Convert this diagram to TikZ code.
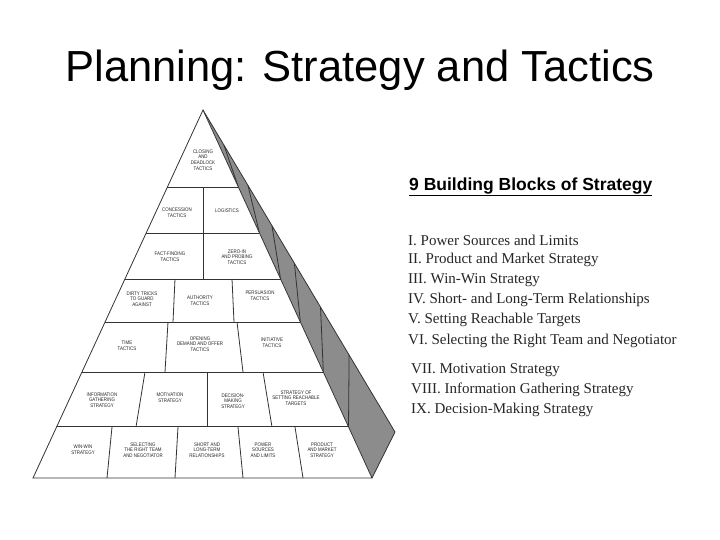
\documentclass[tikz,border=0pt]{standalone}
\usepackage{fontspec}
\setmainfont{Liberation Serif}
\setsansfont{Liberation Sans}
\usetikzlibrary{calc}
\tikzset{lbl/.style={font=\sffamily\fontsize{5.2}{5.6}\selectfont, align=center, inner sep=0pt, xscale=0.85, text=black!85},
 item/.style={font=\fontsize{15}{17}\selectfont, anchor=west, inner sep=0pt, text=black!85},
 edge/.style={draw=black!80, line width=0.8pt}}
\begin{document}
\begin{tikzpicture}[x=1pt,y=-1pt]
\useasboundingbox (0,0) rectangle (720,540);
\node[font=\sffamily\fontsize{43.5}{48}\selectfont] (title) at (360,70) {Planning: Strategy and Tactics};
\coordinate (A) at (203,110);
\coordinate (L) at (33,478);
\coordinate (R) at (372,478);
\coordinate (B) at (395,432);
% side face
\fill[black!45] (A) -- (B) -- (R) -- cycle;
\draw[edge] (A) -- (B) -- (R);
\foreach \t in {0.209,0.334,0.459,0.576,0.712,0.861}{
  \pgfmathsetmacro{\s}{\t-0.1}
  \draw[edge] ($(A)!\t!(R)$) -- ($(A)!\s!(B)$);
}
% front face
\fill[white] (A) -- (L) -- (R) -- cycle;
\draw[edge] (A) -- (L) -- (R) -- cycle;
\foreach \t in {0.209,0.334,0.459,0.576,0.712,0.861}{
  \draw[edge] ($(A)!\t!(L)$) -- ($(A)!\t!(R)$);
}
\draw[edge] (203,187) -- (203,279);
\draw[edge] (175,279) -- (173,322);
\draw[edge] (232,279) -- (234,322);
\draw[edge] (168,322) -- (165,372);
\draw[edge] (237,322) -- (243,372);
\draw[edge] (145,372) -- (136,427);
\draw[edge] (207,372) -- (207,427);
\draw[edge] (263,372) -- (272,427);
\draw[edge] (112,427) -- (107,478);
\draw[edge] (178,427) -- (175,478);
\draw[edge] (238,427) -- (243,478);
\draw[edge] (295,427) -- (303,478);
% labels
\node[lbl] (c1) at (203,160) {CLOSING\\AND\\DEADLOCK\\TACTICS};
\node[lbl] (c2) at (177,213) {CONCESSION\\TACTICS};
\node[lbl] (c3) at (227,211) {LOGISTICS};
\node[lbl] (c4) at (170,257) {FACT-FINDING\\TACTICS};
\node[lbl] (c5) at (237,257) {ZERO-IN\\AND PROBING\\TACTICS};
\node[lbl] (c6) at (142,299) {DIRTY TRICKS\\TO GUARD\\AGAINST};
\node[lbl] (c7) at (200,301) {AUTHORITY\\TACTICS};
\node[lbl] (c8) at (260,296) {PERSUASION\\TACTICS};
\node[lbl] (c9) at (127,346) {TIME\\TACTICS};
\node[lbl] (c10) at (200,344) {OPENING\\DEMAND AND OFFER\\TACTICS};
\node[lbl] (c11) at (272,343) {INITIATIVE\\TACTICS};
\node[lbl] (c12) at (102,400) {INFORMATION\\GATHERING\\STRATEGY};
\node[lbl] (c13) at (170,398) {MOTIVATION\\STRATEGY};
\node[lbl] (c14) at (233,401) {DECISION-\\MAKING\\STRATEGY};
\node[lbl] (c15) at (296,398) {STRATEGY OF\\SETTING REACHABLE\\TARGETS};
\node[lbl] (c16) at (83,450) {WIN-WIN\\STRATEGY};
\node[lbl] (c17) at (143,450) {SELECTING\\THE RIGHT TEAM\\AND NEGOTIATOR};
\node[lbl] (c18) at (207,450) {SHORT AND\\LONG-TERM\\RELATIONSHIPS};
\node[lbl] (c19) at (263,450) {POWER\\SOURCES\\AND LIMITS};
\node[lbl] (c20) at (322,450) {PRODUCT\\AND MARKET\\STRATEGY};
% right text
\node[font=\sffamily\bfseries\fontsize{17.5}{20}\selectfont, anchor=west, inner sep=0pt] (hd) at (409,187) {\underline{9 Building Blocks of Strategy}};
\node[item] (i1) at (408,240) {I. Power Sources and Limits};
\node[item] (i2) at (408,260) {II. Product and Market Strategy};
\node[item] (i3) at (408,280) {III. Win-Win Strategy};
\node[item] (i4) at (408,300) {IV. Short- and Long-Term Relationships};
\node[item] (i5) at (408,320) {V. Setting Reachable Targets};
\node[item] (i6) at (408,341) {VI. Selecting the Right Team and Negotiator};
\node[item] (i7) at (411,370) {VII. Motivation Strategy};
\node[item] (i8) at (411,390) {VIII. Information Gathering Strategy};
\node[item] (i9) at (411,410) {IX. Decision-Making Strategy};
\end{tikzpicture}
\end{document}
